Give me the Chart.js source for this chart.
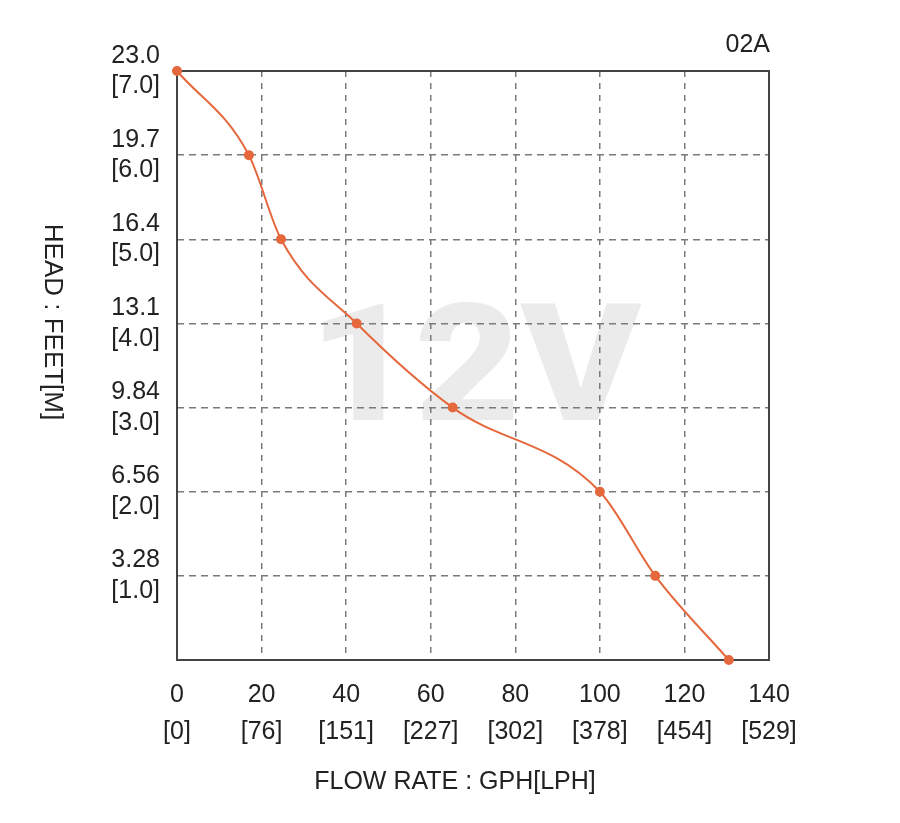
<!DOCTYPE html>
<html>
<head>
<meta charset="utf-8">
<script src="https://cdn.jsdelivr.net/npm/chart.js@4"></script>
<style>
  html, body { margin: 0; padding: 0; background: #fff; }
  #wrap { width: 900px; height: 823px; }
</style>
</head>
<body>
<div id="wrap"><canvas id="pumpChart" width="900" height="823"></canvas></div>
<script>
// flow (GPH) vs head (m)
const flowGph = [0, 17.0, 24.6, 42.5, 65.2, 100.0, 113.1, 130.5];
const headM = [7.0, 6.0, 5.0, 4.0, 3.0, 2.0, 1.0, 0.0];

const gphTicks = ['0', '20', '40', '60', '80', '100', '120', '140'];
const lphTicks = ['[0]', '[76]', '[151]', '[227]', '[302]', '[378]', '[454]', '[529]'];
const feetTicks = ['', '3.28', '6.56', '9.84', '13.1', '16.4', '19.7', '23.0'];
const meterTicks = ['', '[1.0]', '[2.0]', '[3.0]', '[4.0]', '[5.0]', '[6.0]', '[7.0]'];

const FONT = "'Liberation Sans', Arial, sans-serif";
const ORANGE = '#e5683d';

const decor = {
  id: 'decor',
  beforeDraw(chart) {
    const { ctx } = chart;
    ctx.save();
    ctx.fillStyle = '#fff';
    ctx.fillRect(0, 0, chart.width, chart.height);
    // heavy grey watermark behind the grid
    ctx.translate(475, 420);
    ctx.scale(1.12, 1);
    ctx.fillStyle = '#ebebeb';
    ctx.font = '900 163px Roboto, Inter, sans-serif';
    ctx.textAlign = 'center';
    ctx.textBaseline = 'alphabetic';
    ctx.fillText('12V', 0, 0);
    ctx.restore();
  },
  beforeDatasetsDraw(chart) {
    const { ctx, chartArea: a } = chart;
    ctx.save();
    ctx.strokeStyle = '#444';
    ctx.lineWidth = 2;
    ctx.strokeRect(a.left, a.top, a.right - a.left, a.bottom - a.top);
    ctx.restore();
  },
  afterDraw(chart) {
    const { ctx, chartArea: a } = chart;
    ctx.save();
    ctx.fillStyle = '#222';
    ctx.font = `25px ${FONT}`;
    ctx.textBaseline = 'middle';
    ctx.textAlign = 'right';
    ctx.fillText('02A', a.right + 1, 45);
    ctx.textAlign = 'center';
    ctx.fillText('FLOW RATE : GPH[LPH]', 455, 782);
    ctx.font = `26px ${FONT}`;
    ctx.translate(52, 322);
    ctx.rotate(Math.PI / 2);
    ctx.fillText('HEAD : FEET[M]', 0, 0);
    ctx.restore();
  }
};

new Chart(document.getElementById('pumpChart'), {
  type: 'scatter',
  data: {
    datasets: [{
      data: flowGph.map((x, i) => ({ x, y: headM[i] })),
      showLine: true,
      clip: false,
      borderColor: ORANGE,
      backgroundColor: ORANGE,
      borderWidth: 2,
      pointRadius: 4,
      pointHoverRadius: 4,
      cubicInterpolationMode: 'monotone'
    }]
  },
  options: {
    responsive: false,
    animation: false,
    events: [],
    layout: { padding: { top: 71, right: 131, left: 0, bottom: 0 } },
    plugins: { legend: { display: false }, tooltip: { enabled: false } },
    scales: {
      x: {
        type: 'linear',
        min: 0, max: 140,
        afterFit: (s) => { s.height = 163; },
        ticks: {
          stepSize: 20,
          padding: 17,
          color: '#222',
          font: { family: FONT, size: 25, lineHeight: 1.46 },
          maxRotation: 0,
          callback: (v, i) => [gphTicks[i], lphTicks[i]]
        },
        grid: { color: '#7a7a7a', lineWidth: 1.5, drawTicks: false },
        border: { display: false, dash: [6, 6] }
      },
      y: {
        type: 'linear',
        min: 0, max: 7,
        afterFit: (s) => { s.width = 177; },
        ticks: {
          stepSize: 1,
          padding: 17,
          color: '#222',
          font: { family: FONT, size: 25, lineHeight: 1.22 },
          callback: (v, i) => (i === 0 ? '' : [feetTicks[i], meterTicks[i]])
        },
        grid: { color: '#7a7a7a', lineWidth: 1.5, drawTicks: false },
        border: { display: false, dash: [7, 5] }
      }
    }
  },
  plugins: [decor]
});
</script>
</body>
</html>
